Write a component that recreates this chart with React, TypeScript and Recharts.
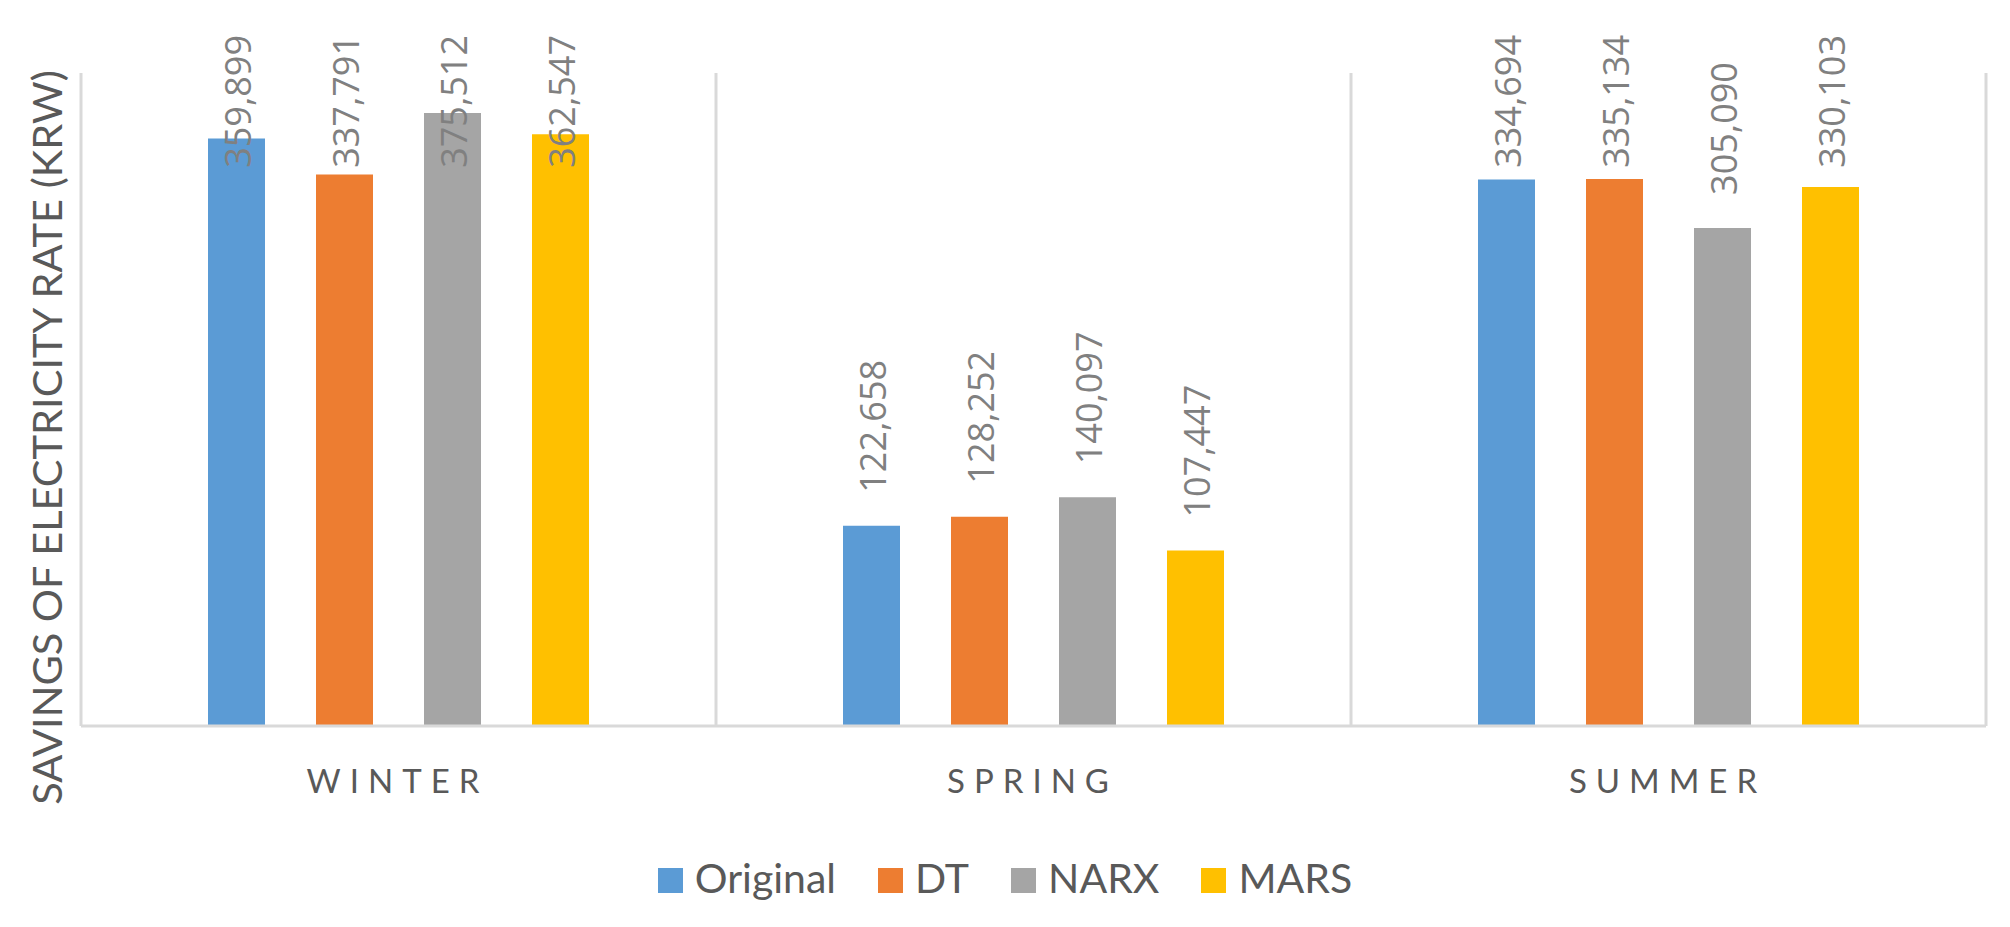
import { Bar, BarChart, LabelList, Legend, ReferenceLine, XAxis, YAxis } from 'recharts'

const seasons = ['WINTER', 'SPRING', 'SUMMER']
const original = [359899, 122658, 334694]
const dt = [337791, 128252, 335134]
const narx = [375512, 140097, 305090]
const mars = [362547, 107447, 330103]

const SERIES = [
  { key: 'original', name: 'Original', color: '#5B9BD5', values: original },
  { key: 'dt', name: 'DT', color: '#ED7D31', values: dt },
  { key: 'narx', name: 'NARX', color: '#A5A5A5', values: narx },
  { key: 'mars', name: 'MARS', color: '#FFC000', values: mars },
]

const data = seasons.map((season, i) => {
  const row: Record<string, string | number> = { season }
  for (const s of SERIES) row[s.key] = s.values[i]
  return row
})

const W = 2010
const H = 927
const GRID = '#d9d9d9'
const TEXT = '#595959'
const LABEL_FONT = '36px "Open Sans"'
const LABEL_TOP = 35 // labels can't go above this, Excel pushes them down

let ctx: CanvasRenderingContext2D | null = null
function textWidth(text: string, font: string) {
  if (!ctx) ctx = document.createElement('canvas').getContext('2d')
  if (!ctx) return text.length * 19
  ctx.font = font
  return ctx.measureText(text).width
}

// eslint-disable-next-line @typescript-eslint/no-explicit-any
function ValueLabel(props: any) {
  const vb = props.viewBox ?? {}
  const x = props.x ?? vb.x
  const y = props.y ?? vb.y
  const width = props.width ?? vb.width
  const text = Number(props.value).toLocaleString('en-US')
  const len = textWidth(text, LABEL_FONT)
  const start = Math.max(y - 33, LABEL_TOP + len)
  const bx = x + width / 2 + 15
  return (
    <text
      x={bx}
      y={start}
      transform={`rotate(-90 ${bx} ${start})`}
      fill="#808080"
      fontSize={36}
      fontFamily="Open Sans"
    >
      {text}
    </text>
  )
}

// eslint-disable-next-line @typescript-eslint/no-explicit-any
function SeasonTick({ x, y, payload }: any) {
  return (
    <text
      x={x}
      y={y}
      dy={59}
      dx={-1}
      textAnchor="middle"
      fill={TEXT}
      fontSize={33}
      fontFamily="Lato"
      letterSpacing={9}
    >
      {payload.value}
    </text>
  )
}

// drawn as the label of the left edge line, so it follows the plot area
// eslint-disable-next-line @typescript-eslint/no-explicit-any
function AxisTitle({ viewBox }: any) {
  const cx = viewBox.x - 19
  const cy = viewBox.y + viewBox.height / 2 + 38
  return (
    <text
      x={cx}
      y={cy}
      transform={`rotate(-90 ${cx} ${cy})`}
      textAnchor="middle"
      fill={TEXT}
      fontSize={41.5}
      fontFamily="Lato"
    >
      SAVINGS OF ELECTRICITY RATE (KRW)
    </text>
  )
}

function LegendBox() {
  return (
    <div style={{ display: 'flex', justifyContent: 'center', alignItems: 'center' }}>
      {SERIES.map((s, i) => (
        <div
          key={s.key}
          style={{ display: 'flex', alignItems: 'center', marginRight: i < SERIES.length - 1 ? 42 : 0 }}
        >
          <span
            style={{
              width: 25,
              height: 25,
              background: s.color,
              marginRight: 12,
              position: 'relative',
              top: 3,
            }}
          />
          <span style={{ fontFamily: 'Lato', fontSize: 41, lineHeight: 1, color: TEXT }}>{s.name}</span>
        </div>
      ))}
    </div>
  )
}

export default function App() {
  return (
    <div style={{ position: 'absolute', left: 0, top: 0, width: W, height: H, background: '#fff' }}>
      <BarChart
        width={W}
        height={H}
        data={data}
        margin={{ top: 73, right: 24, left: 81, bottom: 121 }}
        barSize={57}
        barGap={51}
      >
        <XAxis
          dataKey="season"
          height={80}
          interval={0}
          tickLine={false}
          axisLine={{ stroke: GRID, strokeWidth: 3 }}
          tick={<SeasonTick />}
        />
        <YAxis hide domain={[0, 400000]} />
        <ReferenceLine x="WINTER" position="start" stroke={GRID} strokeWidth={3} label={AxisTitle} />
        <ReferenceLine x="SPRING" position="start" stroke={GRID} strokeWidth={3} />
        <ReferenceLine x="SUMMER" position="start" stroke={GRID} strokeWidth={3} />
        <ReferenceLine x="SUMMER" position="end" stroke={GRID} strokeWidth={3} />
        {SERIES.map((s) => (
          <Bar key={s.key} dataKey={s.key} name={s.name} fill={s.color} isAnimationActive={false}>
            <LabelList dataKey={s.key} content={ValueLabel} />
          </Bar>
        ))}
        <Legend
          verticalAlign="middle"
          align="center"
          layout="horizontal"
          wrapperStyle={{ top: 857, left: 0, width: W }}
          content={LegendBox}
        />
      </BarChart>
    </div>
  )
}
